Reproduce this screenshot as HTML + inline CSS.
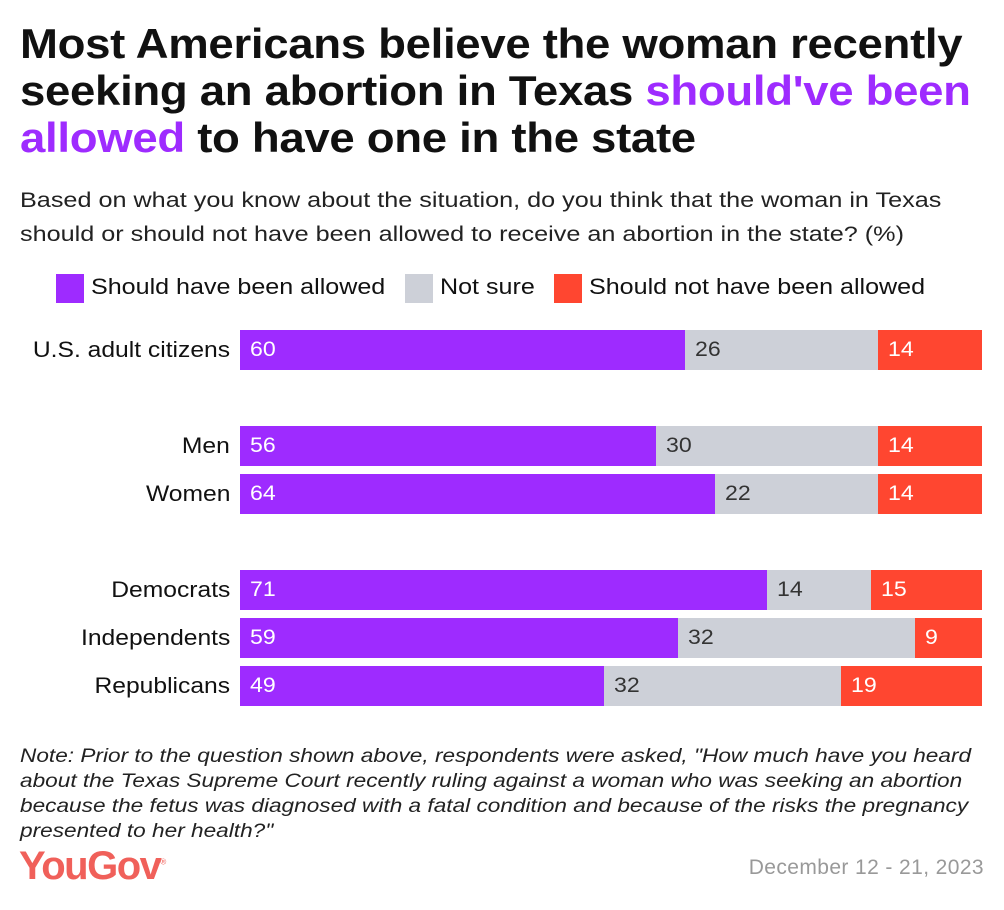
<!DOCTYPE html>
<html><head><meta charset="utf-8"><style>
body{margin:0;background:#fff;font-family:"Liberation Sans",sans-serif;color:#111}
#root{position:relative;width:1004px;height:910px;overflow:hidden}
.t{position:absolute;white-space:nowrap}
.sx{transform-origin:left top}
</style></head><body>
<div id="root">
<div class="t sx" style="left:20px;top:20px;font-size:42px;font-weight:bold;line-height:47px;letter-spacing:-0.3px;transform:scaleX(1.085)">Most Americans believe the woman recently<br>seeking an abortion in Texas <span style="color:#9e2bff">should've been<br>allowed</span> to have one in the state</div>
<div class="t sx" style="left:20px;top:184px;font-size:21px;line-height:34px;color:#222;transform:scaleX(1.2)">Based on what you know about the situation, do you think that the woman in Texas<br>should or should not have been allowed to receive an abortion in the state? (%)</div>
<div>
<div class="t" style="left:56px;top:274px;width:28px;height:29px;background:#9e2bff"></div>
<div class="t sx" style="left:91px;top:274px;font-size:22px;transform:scaleX(1.14)">Should have been allowed</div>
<div class="t" style="left:405px;top:274px;width:28px;height:29px;background:#cdd0d8"></div>
<div class="t sx" style="left:440px;top:274px;font-size:22px;transform:scaleX(1.14)">Not sure</div>
<div class="t" style="left:554px;top:274px;width:28px;height:29px;background:#ff4630"></div>
<div class="t sx" style="left:589px;top:274px;font-size:22px;transform:scaleX(1.14)">Should not have been allowed</div>
</div>
<div id="bars"></div>
<div class="t sx" style="left:20px;top:744px;font-size:19.5px;font-style:italic;line-height:25px;color:#222;transform:scaleX(1.16)">Note: Prior to the question shown above, respondents were asked, "How much have you heard<br>about the Texas Supreme Court recently ruling against a woman who was seeking an abortion<br>because the fetus was diagnosed with a fatal condition and because of the risks the pregnancy<br>presented to her health?"</div>
<div class="t" style="left:19px;top:844px;font-size:40px;font-weight:bold;color:#f0605a;letter-spacing:-1.5px">YouGov<sup style="font-size:8px;font-weight:normal">®</sup></div>
<div class="t" style="right:20px;top:856px;font-size:21px;color:#999;letter-spacing:0.4px">December 12 - 21, 2023</div>
</div>
<script>
const categories=["U.S. adult citizens","Men","Women","Democrats","Independents","Republicans"];
const allowed=[60,56,64,71,59,49];
const notSure=[26,30,22,14,32,32];
const notAllowed=[14,14,14,15,9,19];
const rowTops=[330,426,474,570,618,666];
const x0=240,W=742,H=40;
const xs=v=>v/100*W;
const root=document.getElementById('bars');
function div(style,text){const d=document.createElement('div');d.className='t';d.style.cssText=style;if(text!==undefined)d.textContent=text;root.appendChild(d);return d;}
categories.forEach((c,i)=>{
 const y=rowTops[i];
 const l=div(`right:${1004-x0+10}px;top:${y+7}px;font-size:22px;transform:scaleX(1.12);transform-origin:right top`,c);
 
 
 const segs=[[allowed[i],'#9e2bff','#fff','allowed'],[notSure[i],'#cdd0d8','#333','not-sure'],[notAllowed[i],'#ff4630','#fff','not-allowed']];
 let x=x0;
 segs.forEach(s=>{
  const w=xs(s[0]);
  const b=div(`left:${x}px;top:${y}px;width:${w}px;height:${H}px;background:${s[1]}`);
  
  
  const t=div(`left:${x+10}px;top:${y+8}px;font-size:21px;color:${s[2]};transform:scaleX(1.1);transform-origin:left top`,String(s[0]));
  
  
  x+=w;
 });
});
</script>
</body></html>
